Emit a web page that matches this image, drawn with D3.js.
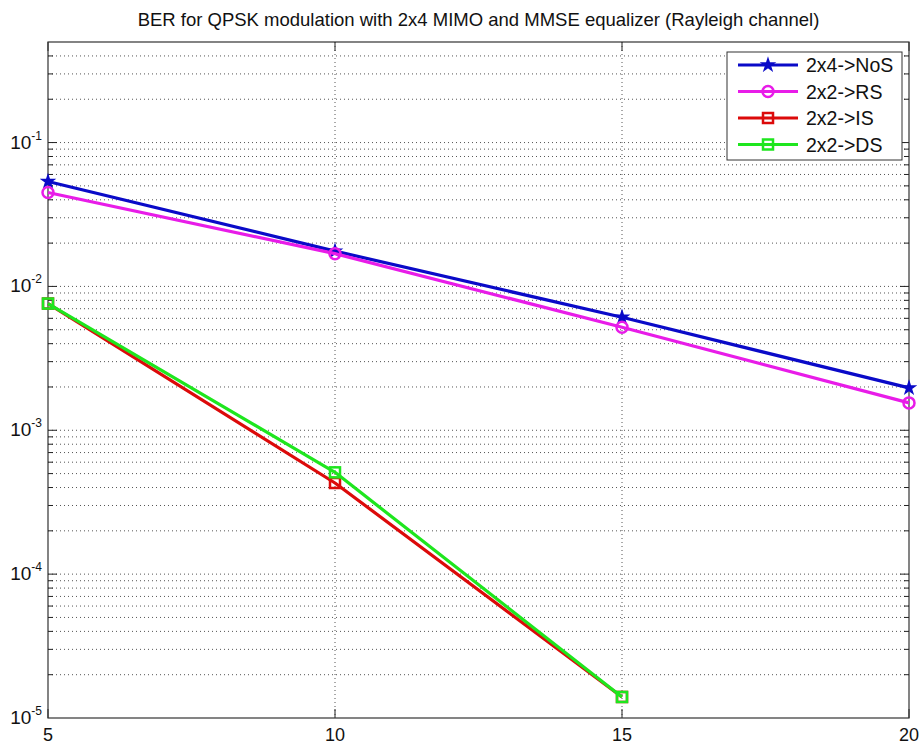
<!DOCTYPE html>
<html>
<head>
<meta charset="utf-8">
<script src="https://cdn.jsdelivr.net/npm/d3@7"></script>
<style>
  body { margin: 0; background: #fff; }
  svg { font-family: "Liberation Sans", Arial, sans-serif; }
</style>
</head>
<body>
<svg id="ber" width="920" height="745"></svg>
<script>
// SNR (dB) on x axis, BER values
var snr = [5, 10, 15, 20];
var berNoS = [0.0536, 0.0176, 0.0061, 0.00197];
var berRS = [0.045, 0.0169, 0.0052, 0.00155];
var berIS = [0.0076, 0.00043, 0.000014];
var berDS = [0.0076, 0.00051, 0.000014];
var seriesNames = ['2x4->NoS', '2x2->RS', '2x2->IS', '2x2->DS'];
var xTicks = [5, 10, 15, 20];
var yTickExp = [-1, -2, -3, -4, -5];

var svg = d3.select("svg#ber"),
    margin = {top: 42, right: 11, bottom: 27, left: 48},
    width = +svg.attr("width") - margin.left - margin.right,
    height = +svg.attr("height") - margin.top - margin.bottom,
    g = svg.append("g").attr("transform", "translate(" + margin.left + "," + margin.top + ")");

var x = d3.scaleLinear().domain([5, 20]).range([0, width]);
var y = d3.scaleLog().domain([1e-5, 0.5]).range([height, 0]);

// minor + major log grid
var gridVals = [];
for (var e = -5; e <= -1; e++) {
    for (var m = 1; m <= 9; m++) {
        var v = m * Math.pow(10, e);
        if (v > 1e-5 && v < 0.5) gridVals.push(v);
    }
}
g.selectAll(".hgrid").data(gridVals).enter().append("line")
    .attr("class", "hgrid")
    .attr("x1", 0).attr("x2", width)
    .attr("y1", function(d) { return y(d); })
    .attr("y2", function(d) { return y(d); })
    .attr("stroke", "#555").attr("stroke-width", 1)
    .attr("stroke-dasharray", "1,3");

g.selectAll(".vgrid").data(xTicks.slice(1, 3)).enter().append("line")
    .attr("class", "vgrid")
    .attr("x1", function(d) { return x(d); })
    .attr("x2", function(d) { return x(d); })
    .attr("y1", 0).attr("y2", height)
    .attr("stroke", "#555").attr("stroke-width", 1)
    .attr("stroke-dasharray", "1,3");

// tick marks on all four sides (pointing in)
var majorY = yTickExp.map(function(p) { return Math.pow(10, p); });
gridVals.forEach(function(v) {
    var isMajor = majorY.some(function(mv) { return Math.abs(mv - v) / v < 1e-6; });
    var len = isMajor ? 9 : 5;
    g.append("line").attr("x1", 0).attr("x2", len)
        .attr("y1", y(v)).attr("y2", y(v)).attr("stroke", "#222");
    g.append("line").attr("x1", width - len).attr("x2", width)
        .attr("y1", y(v)).attr("y2", y(v)).attr("stroke", "#222");
});
xTicks.forEach(function(t) {
    g.append("line").attr("x1", x(t)).attr("x2", x(t))
        .attr("y1", height).attr("y2", height - 9).attr("stroke", "#222");
    g.append("line").attr("x1", x(t)).attr("x2", x(t))
        .attr("y1", 0).attr("y2", 9).attr("stroke", "#222");
});

// frame
g.append("rect")
    .attr("width", width).attr("height", height)
    .attr("fill", "none").attr("stroke", "#333").attr("stroke-width", 1.2);

// tick labels
g.selectAll(".xlab").data(xTicks).enter().append("text")
    .attr("class", "xlab")
    .attr("x", function(d) { return x(d); })
    .attr("y", height + 23)
    .attr("text-anchor", "middle")
    .attr("font-size", 18)
    .attr("fill", "#111")
    .text(function(d) { return d; });

yTickExp.forEach(function(p) {
    var t = g.append("text")
        .attr("x", -6)
        .attr("y", y(Math.pow(10, p)) + 6)
        .attr("text-anchor", "end")
        .attr("font-size", 19)
        .attr("fill", "#111");
    t.append("tspan").text("10");
    t.append("tspan").attr("dy", -9).attr("font-size", 12).text(p);
});

// series
var colors = ['#0a0ac8', '#e81ce8', '#dc0a0a', '#1ee61e'];
var seriesData = [berNoS, berRS, berIS, berDS];
var line = d3.line()
    .x(function(d) { return x(d[0]); })
    .y(function(d) { return y(d[1]); });

var star = d3.symbol().type(d3.symbolStar).size(45);

function drawMarker(sel, i, cx, cy) {
    if (i === 0) {
        sel.append("path").attr("d", star)
            .attr("transform", "translate(" + cx + "," + cy + ")")
            .attr("fill", colors[i]).attr("stroke", colors[i]).attr("stroke-width", 1.5);
    } else if (i === 1) {
        sel.append("circle").attr("cx", cx).attr("cy", cy).attr("r", 5.5)
            .attr("fill", "none").attr("stroke", colors[i]).attr("stroke-width", 2.5);
    } else {
        sel.append("rect").attr("x", cx - 5).attr("y", cy - 5)
            .attr("width", 10).attr("height", 10)
            .attr("fill", "none").attr("stroke", colors[i]).attr("stroke-width", 2.5);
    }
}

var clip = svg.append("clipPath").attr("id", "clip")
    .append("rect").attr("x", -8).attr("y", -8).attr("width", width + 16).attr("height", height + 16);

seriesData.forEach(function(vals, i) {
    var pts = vals.map(function(v, j) { return [snr[j], v]; });
    var sg = g.append("g").attr("clip-path", "url(#clip)");
    sg.append("path")
        .attr("d", line(pts))
        .attr("fill", "none")
        .attr("stroke", colors[i])
        .attr("stroke-width", 3.2)
        .attr("stroke-linejoin", "round");
    pts.forEach(function(p) {
        drawMarker(sg, i, x(p[0]), y(p[1]));
    });
});

// legend
var lg = svg.append("g").attr("transform", "translate(727,52)");
lg.append("rect").attr("width", 175).attr("height", 108)
    .attr("fill", "#fff").attr("stroke", "#333").attr("stroke-width", 1);
seriesNames.forEach(function(name, i) {
    var ly = 13 + i * 26.5;
    lg.append("line").attr("x1", 11).attr("x2", 71)
        .attr("y1", ly).attr("y2", ly)
        .attr("stroke", colors[i]).attr("stroke-width", 3.2);
    drawMarker(lg, i, 41, ly);
    lg.append("text").attr("x", 79).attr("y", ly + 7)
        .attr("font-size", 19.5).attr("fill", "#111").text(name);
});

// title
svg.append("text")
    .attr("x", margin.left + width / 2)
    .attr("y", 26)
    .attr("text-anchor", "middle")
    .attr("font-size", 18.5)
    .attr("fill", "#111")
    .text("BER for QPSK modulation with 2x4 MIMO and MMSE equalizer (Rayleigh channel)");
</script>
</body>
</html>
